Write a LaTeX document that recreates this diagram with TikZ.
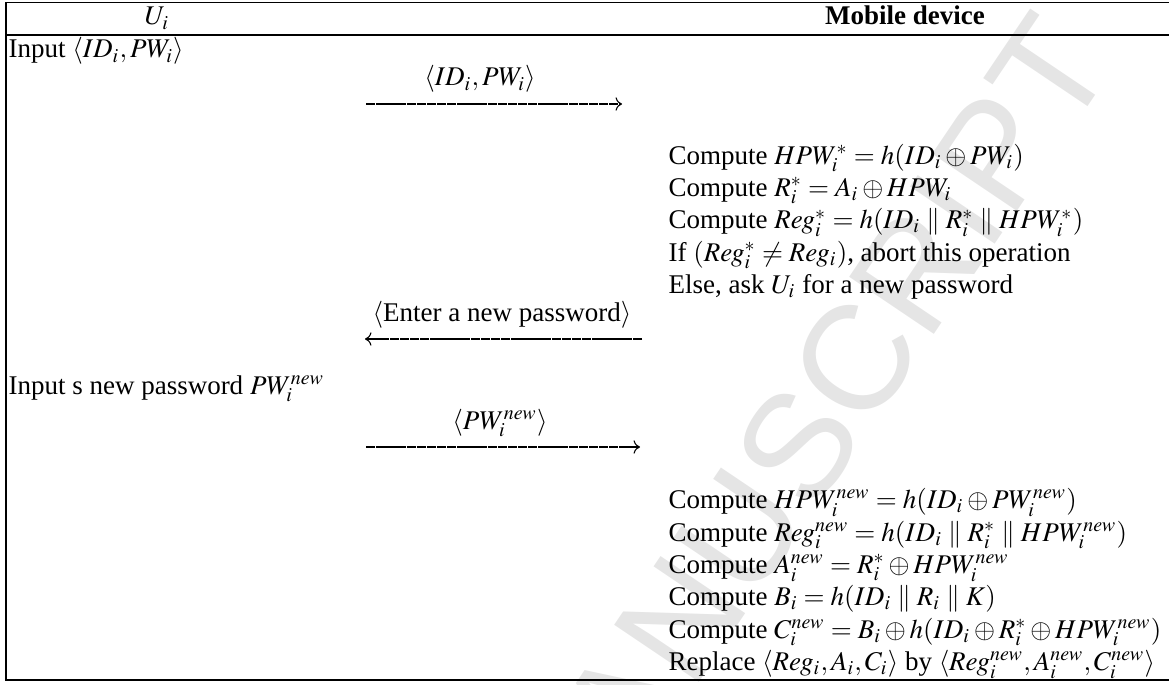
\documentclass[tikz,border=0pt]{standalone}
\usepackage{mathptmx}
\usepackage{fontspec}
\setmainfont{Liberation Serif}
\newfontfamily\wmfont{Liberation Sans}
\usetikzlibrary{arrows.meta}
\begin{document}
\begin{tikzpicture}[x=0.37037pt,y=-0.37037pt,
  every node/.style={inner sep=0pt, font=\fontsize{10}{12}\selectfont},
  line/.style={anchor=base west},
  head/.style={anchor=base},
  msglabel/.style={anchor=base},
  rule/.style={line width=0.4pt},
  msgarrow/.style={line width=0.4pt, dash pattern=on 3.5pt off 0.25pt, -{To[length=2.4pt,width=5pt]}},
  wm/.style={text=black!10, font=\wmfont\fontsize{55}{55}\selectfont}
]
\useasboundingbox (0,0) rectangle (1169,684);

% watermark behind the table
\node[wm, rotate=56] (wmark) at (800,442) {MANUSCRIPT};

% table frame
\coordinate (tl) at (6,2.5);
\coordinate (tr) at (1169,2.5);
\coordinate (hl) at (6,35);
\coordinate (hr) at (1169,35);
\coordinate (bl) at (6,680);
\coordinate (br) at (1169,680);
\draw[rule] (tr) -- (tl) -- (bl) -- (br);
\draw[rule] (hl) -- (hr);

% column heads
\node[head] (hU) at (157,25) {$U_i$};
\node[head] (hM) at (905,25) {\bfseries Mobile device};

% user side
\node[line] (u1) at (8,58) {Input $\langle ID_i, PW_i\rangle$};
\node[line] (u2) at (8,394) {Input s new password $PW_i^{new}$};

% message 1
\coordinate (m1s) at (366,104);
\coordinate (m1e) at (622,104);
\draw[msgarrow] (m1s) -- (m1e);
\node[msglabel] (l1) at (480,86) {$\langle ID_i, PW_i\rangle$};

% device checks
\node[line] (d1) at (668,164) {Compute $HPW_i^{*} = h(ID_i \oplus PW_i)$};
\node[line] (d2) at (668,196.4) {Compute $R_i^{*} = A_i \oplus HPW_i$};
\node[line] (d3) at (668,228.8) {Compute $Reg_i^{*} = h(ID_i \parallel R_i^{*} \parallel HPW_i^{*})$};
\node[line] (d4) at (668,261.2) {If $(Reg_i^{*} \neq Reg_i)$, abort this operation};
\node[line] (d5) at (668,293.6) {Else, ask $U_i$ for a new password};

% message 2
\coordinate (m2s) at (642,339);
\coordinate (m2e) at (365,339);
\draw[msgarrow] (m2s) -- (m2e);
\node[msglabel] (l2) at (502,321) {$\langle$Enter a new password$\rangle$};

% message 3
\coordinate (m3s) at (366,447);
\coordinate (m3e) at (640,447);
\draw[msgarrow] (m3s) -- (m3e);
\node[msglabel] (l3) at (500,429) {$\langle PW_i^{new}\rangle$};

% device update
\node[line] (e1) at (668,508.5) {Compute $HPW_i^{new} = h(ID_i \oplus PW_i^{new})$};
\node[line] (e2) at (668,541) {Compute $Reg_i^{new} = h(ID_i \parallel R_i^{*} \parallel HPW_i^{new})$};
\node[line] (e3) at (668,573.3) {Compute $A_i^{new} = R_i^{*} \oplus HPW_i^{new}$};
\node[line] (e4) at (668,605.7) {Compute $B_i = h(ID_i \parallel R_i \parallel K)$};
\node[line] (e5) at (668,638) {Compute $C_i^{new} = B_i \oplus h(ID_i \oplus R_i^{*} \oplus HPW_i^{new})$};
\node[line] (e6) at (668,670.5) {Replace $\langle Reg_i, A_i, C_i\rangle$ by $\langle Reg_i^{new}, A_i^{new}, C_i^{new}\rangle$};
\end{tikzpicture}
\end{document}
